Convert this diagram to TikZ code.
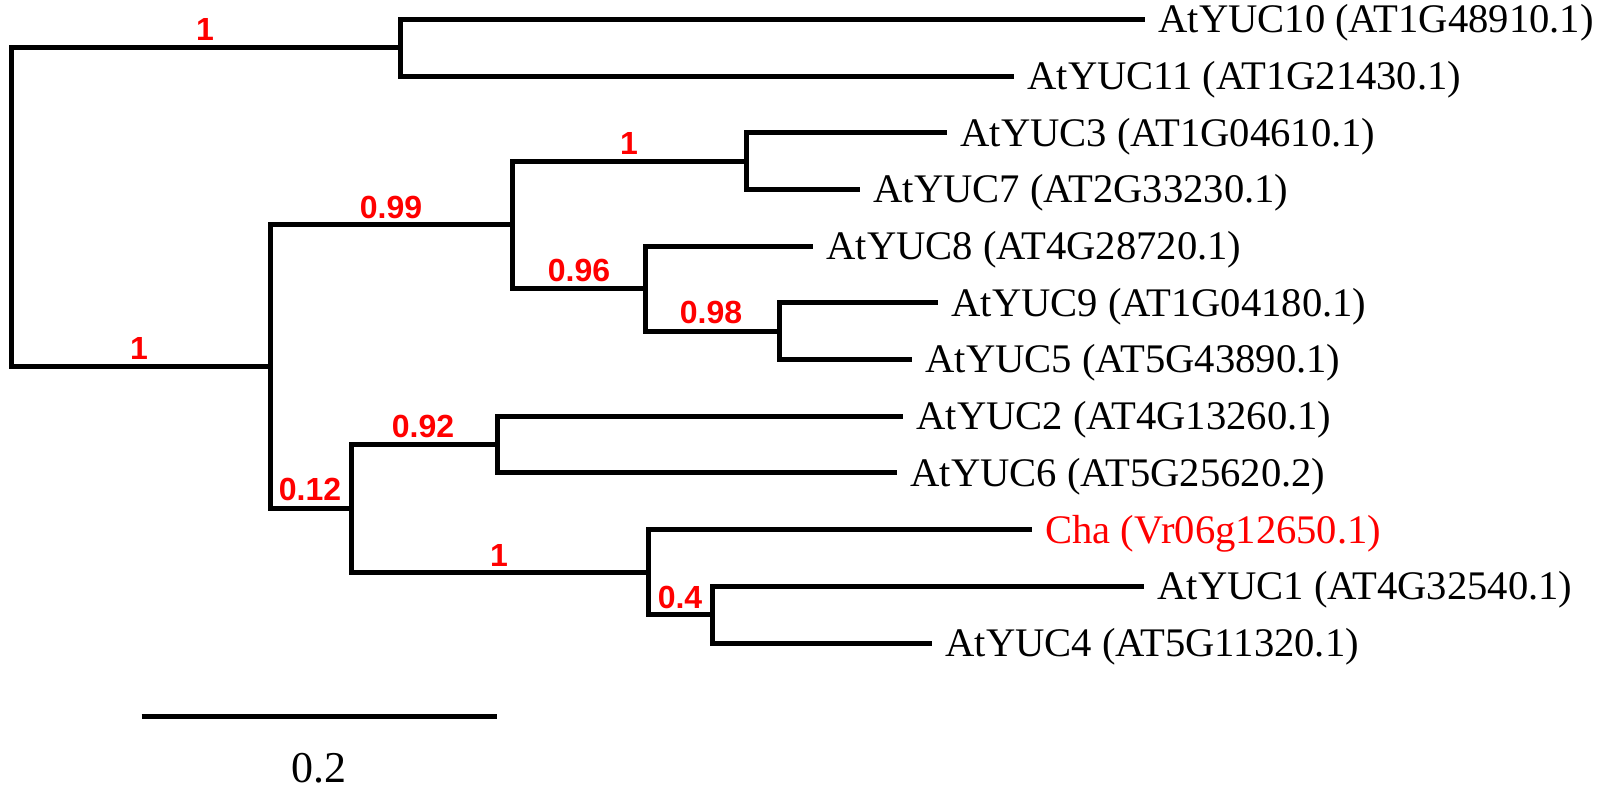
\documentclass[tikz,border=0pt]{standalone}
\usepackage{fontspec}
\setmainfont{Liberation Serif}
\newfontfamily\lsans{Liberation Sans}
\definecolor{bsred}{RGB}{255,0,0}
\begin{document}
\begin{tikzpicture}[x=0.5pt,y=-0.5pt,
  branch/.style={line width=2.5pt, black},
  leaf/.style={anchor=west, inner xsep=6.5pt, inner ysep=0pt,
    font=\fontsize{20.3}{21}\selectfont, text height=13.44pt, text depth=0pt},
  support/.style={text=bsred, font=\lsans\bfseries\fontsize{16}{16}\selectfont,
    inner sep=0pt, text height=11.46pt, text depth=0pt}]
\useasboundingbox (0,0) rectangle (1600,789);
% leaves
\node[leaf] (l0)  at (1145,19.3)  {AtYUC10 (AT1G48910.1)};
\node[leaf] (l1)  at (1014,76.0)  {AtYUC11 (AT1G21430.1)};
\node[leaf] (l2)  at (947,132.7)  {AtYUC3 (AT1G04610.1)};
\node[leaf] (l3)  at (860,189.4)  {AtYUC7 (AT2G33230.1)};
\node[leaf] (l4)  at (813,246.1)  {AtYUC8 (AT4G28720.1)};
\node[leaf] (l5)  at (938,302.8)  {AtYUC9 (AT1G04180.1)};
\node[leaf] (l6)  at (912,359.5)  {AtYUC5 (AT5G43890.1)};
\node[leaf] (l7)  at (903,416.2)  {AtYUC2 (AT4G13260.1)};
\node[leaf] (l8)  at (897,472.9)  {AtYUC6 (AT5G25620.2)};
\node[leaf, text=bsred] (l9)  at (1032,529.6) {Cha (Vr06g12650.1)};
\node[leaf] (l10) at (1144,586.3) {AtYUC1 (AT4G32540.1)};
\node[leaf] (l11) at (932,643.0)  {AtYUC4 (AT5G11320.1)};
% internal nodes
\coordinate (n1) at (400,47.65);
\coordinate (nB) at (746.7,161.05);
\coordinate (nD) at (779,331.15);
\coordinate (nC) at (645,288.6);
\coordinate (nA) at (512,224.8);
\coordinate (nG) at (497,444.55);
\coordinate (nI) at (712,614.65);
\coordinate (nH) at (648,572.1);
\coordinate (nF) at (351,508.3);
\coordinate (nE) at (270,366.6);
\coordinate (root) at (11,207.1);
% branches
\draw[branch] (root) |- (n1);
\draw[branch] (root) |- (nE);
\draw[branch] (n1) |- (l0.west);
\draw[branch] (n1) |- (l1.west);
\draw[branch] (nE) |- (nA);
\draw[branch] (nE) |- (nF);
\draw[branch] (nA) |- (nB);
\draw[branch] (nA) |- (nC);
\draw[branch] (nB) |- (l2.west);
\draw[branch] (nB) |- (l3.west);
\draw[branch] (nC) |- (l4.west);
\draw[branch] (nC) |- (nD);
\draw[branch] (nD) |- (l5.west);
\draw[branch] (nD) |- (l6.west);
\draw[branch] (nF) |- (nG);
\draw[branch] (nF) |- (nH);
\draw[branch] (nG) |- (l7.west);
\draw[branch] (nG) |- (l8.west);
\draw[branch] (nH) |- (l9.west);
\draw[branch] (nH) |- (nI);
\draw[branch] (nI) |- (l10.west);
\draw[branch] (nI) |- (l11.west);
% support values
\node[support] (s1) at (205,29.3) {1};
\node[support] (s2) at (139,348.3) {1};
\node[support] (s3) at (391,206.7) {0.99};
\node[support] (s4) at (629,142.7) {1};
\node[support] (s5) at (579,270) {0.96};
\node[support] (s6) at (711,312.3) {0.98};
\node[support] (s7) at (310,489) {0.12};
\node[support] (s8) at (423,425.7) {0.92};
\node[support] (s9) at (499,555) {1};
\node[support] (s10) at (680,596.7) {0.4};
% scale bar
\coordinate (sbL) at (141.7,716.7);
\coordinate (sbR) at (497.3,716.7);
\draw[branch] (sbL) -- (sbR);
\node[font=\fontsize{22}{22}\selectfont, inner sep=0pt, text height=14.9pt, text depth=0pt] (sbt) at (319,768) {0.2};
\end{tikzpicture}
\end{document}
